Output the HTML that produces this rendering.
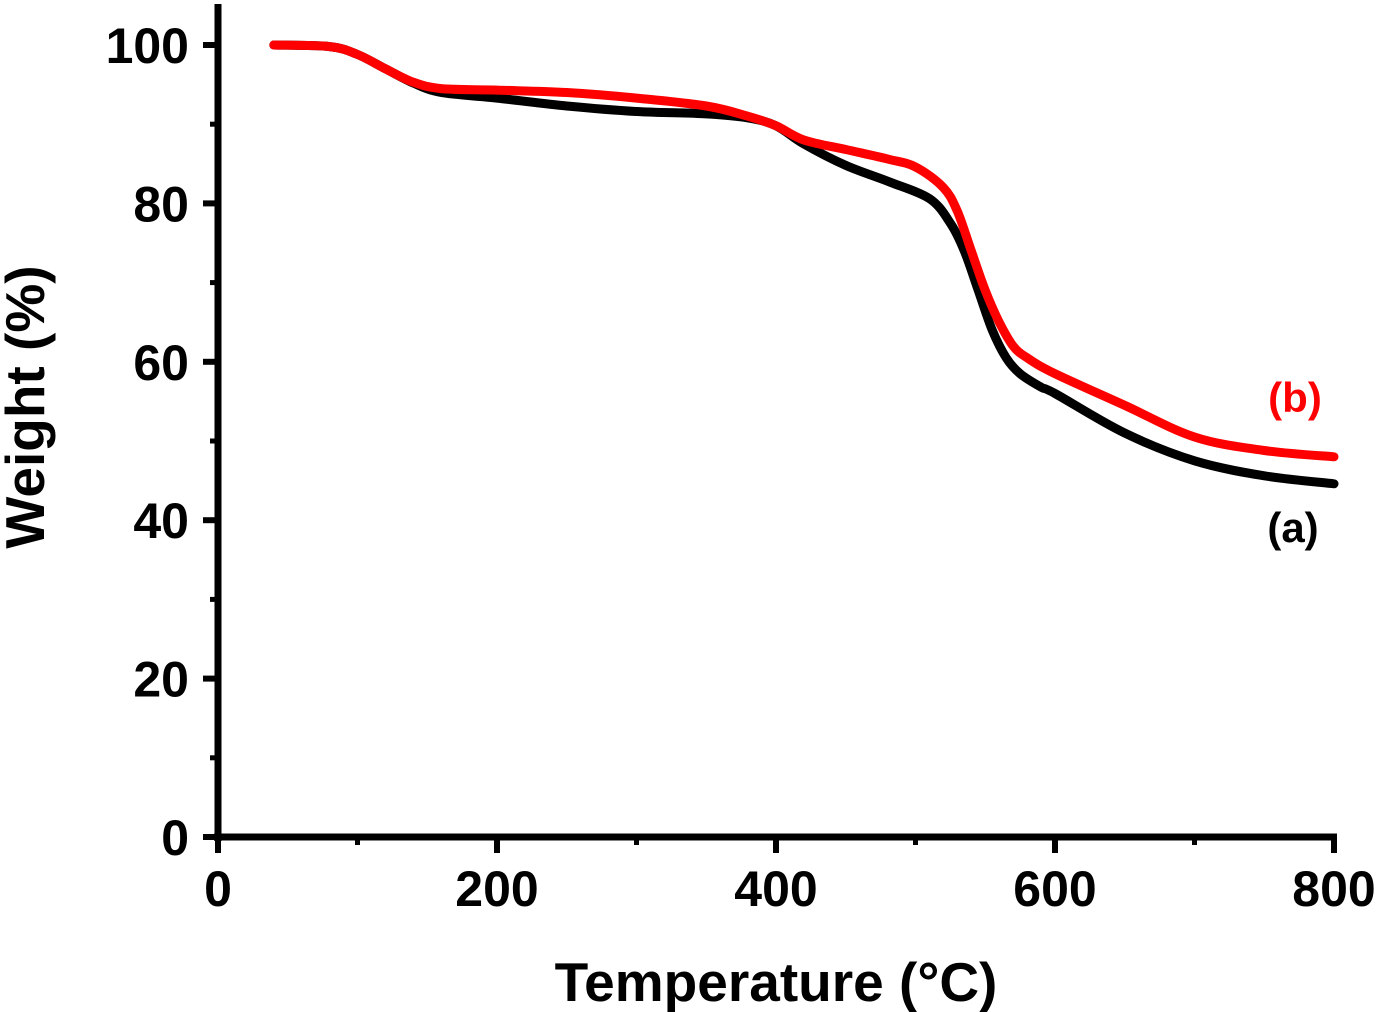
<!DOCTYPE html>
<html><head><meta charset="utf-8"><style>
body{margin:0;background:#fff}
svg{display:block;font-family:"Liberation Sans",Arial,sans-serif;font-weight:bold}
</style></head><body>
<svg id="chart" width="1378" height="1012" viewBox="0 0 1378 1012"></svg>
<script>
const xTicks=[0,200,400,600,800];
const yTicks=[0,20,40,60,80,100];
const tempA=[40,80,100,120,140,160,200,250,300,350,380,400,420,450,480,510,525,535,545,555,565,575,590,600,650,700,750,800];
const weightA=[100,99.8,98.8,97,95.2,94,93.3,92.3,91.6,91.3,90.8,89.8,87.5,84.8,82.8,80.6,77.5,74,69,64,60.5,58.5,56.8,56,51,47.5,45.6,44.6];
const tempB=[40,80,100,120,140,160,200,250,300,350,380,400,420,450,480,500,520,530,540,550,560,570,580,600,650,700,750,800];
const weightB=[100,99.8,98.8,97,95.3,94.5,94.3,94,93.3,92.3,91,89.8,88,86.8,85.6,84.6,82,79,74,69,65,62,60.5,58.5,54.5,50.5,48.8,48];
const NS="http://www.w3.org/2000/svg";
const svg=document.getElementById('chart');
const X=v=>218+v*(1334-218)/800;
const Y=v=>837-v*7.92;
function el(t,a,txt){const e=document.createElementNS(NS,t);for(const k in a)e.setAttribute(k,a[k]);if(txt!=null)e.textContent=txt;svg.appendChild(e);return e;}
function line(x1,y1,x2,y2,w){return el('line',{x1,y1,x2,y2,stroke:'#000','stroke-width':w});}
let ax=line(218,4,218,841,7);


ax=line(214,837,1337,837,7);


for(const t of yTicks){
 const tk=line(203,Y(t),218,Y(t),6);
 
 
 const lb=el('text',{x:189,y:Y(t)+18,'text-anchor':'end','font-size':50},String(t));
 
 
 if(t<100){const m=line(210,Y(t+10),218,Y(t+10),5);
 
 }
}
for(const t of xTicks){
 const tk=line(X(t),837,X(t),853,6);
 
 
 const lb=el('text',{x:X(t),y:906,'text-anchor':'middle','font-size':50},String(t));
 
 
 if(t<800){const m=line(X(t+100),837,X(t+100),845,5);
 
 }
}
function series(tx,wy,color,name){
 const P=tx.map((t,i)=>[X(t),Y(wy[i])]);
 let d='M'+P[0][0].toFixed(1)+','+P[0][1].toFixed(1);
 for(let i=0;i<P.length-1;i++){
  const p0=P[Math.max(0,i-1)],p1=P[i],p2=P[i+1],p3=P[Math.min(P.length-1,i+2)];
  const c1=[p1[0]+(p2[0]-p0[0])/6,p1[1]+(p2[1]-p0[1])/6];
  const c2=[p2[0]-(p3[0]-p1[0])/6,p2[1]-(p3[1]-p1[1])/6];
  d+=' C'+c1.map(v=>v.toFixed(1)).join(',')+' '+c2.map(v=>v.toFixed(1)).join(',')+' '+p2.map(v=>v.toFixed(1)).join(',');
 }
 const p=el('path',{d,fill:'none',stroke:color,'stroke-width':9,'stroke-linejoin':'round','stroke-linecap':'round'});
 
 
}
series(tempA,weightA,'#000','series-a-line');
series(tempB,weightB,'#ff0000','series-b-line');
let t=el('text',{x:1295,y:412,'text-anchor':'middle','font-size':42,fill:'#ff0000'},'(b)');


t=el('text',{x:1293,y:542,'text-anchor':'middle','font-size':42,fill:'#000'},'(a)');


t=el('text',{x:776,y:1001,'text-anchor':'middle','font-size':55},'Temperature (°C)');


t=el('text',{x:0,y:0,'text-anchor':'middle','font-size':55,transform:'translate(44,407) rotate(-90)'},'Weight (%)');


</script>
</body></html>
